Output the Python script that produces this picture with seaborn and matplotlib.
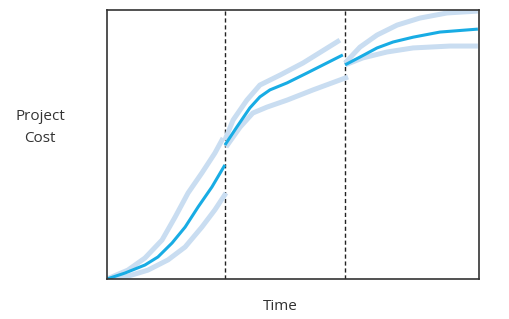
import matplotlib
matplotlib.use("Agg")
import matplotlib.pyplot as plt
import seaborn as sns
import pandas as pd

sns.set_theme(style="white")
plt.rcParams['font.family'] = ['Open Sans', 'DejaVu Sans']

# Phase boundaries (time units 0..10)
phase_bounds = [3.17, 6.40]

# Segment 1
s1_t_mid = [0, 0.48, 1.02, 1.37, 1.75, 2.10, 2.45, 2.82, 3.17]
s1_c_mid = [0, 2.2, 5.2, 8.2, 13.4, 19.3, 26.8, 34.2, 42.4]
s1_t_up = [0, 0.56, 1.02, 1.48, 1.83, 2.18, 2.55, 2.90, 3.12]
s1_c_up = [0, 3.3, 7.8, 14.5, 23.0, 32.0, 39.4, 46.8, 52.4]
s1_t_lo = [0, 0.48, 1.10, 1.64, 2.10, 2.55, 2.90, 3.20]
s1_c_lo = [0, 0.7, 3.3, 7.1, 11.9, 19.3, 25.7, 32.0]

# Segment 2
s2_t_mid = [3.17, 3.49, 3.84, 4.11, 4.38, 4.84, 5.38, 5.91, 6.34]
s2_c_mid = [49.8, 56.5, 63.6, 67.7, 70.3, 72.9, 76.6, 80.3, 83.3]
s2_t_up = [3.17, 3.39, 3.76, 4.11, 4.65, 5.27, 6.26]
s2_c_up = [51.7, 59.1, 66.5, 72.1, 75.8, 80.3, 88.8]
s2_t_lo = [3.20, 3.58, 3.92, 4.30, 4.84, 5.54, 6.48]
s2_c_lo = [49.1, 56.5, 61.7, 63.9, 66.5, 70.3, 75.1]

# Segment 3
s3_t_mid = [6.40, 6.80, 7.26, 7.69, 8.23, 8.95, 9.97]
s3_c_mid = [79.6, 82.5, 85.9, 88.1, 89.9, 91.8, 92.9]
s3_t_up = [6.40, 6.80, 7.26, 7.80, 8.41, 9.14, 9.97]
s3_c_up = [80.3, 86.2, 90.7, 94.4, 97.0, 98.9, 99.6]
s3_t_lo = [6.40, 6.88, 7.53, 8.23, 9.22, 9.97]
s3_c_lo = [79.6, 82.2, 84.4, 85.9, 86.6, 86.6]

fig = plt.figure(figsize=(5.10, 3.19), dpi=100)
ax = fig.add_axes([107/510, 40/319, 372/510, 269/319])

band_color = "#c9ddf1"
mid_color = "#18ace4"

bands = [(s1_t_up, s1_c_up), (s1_t_lo, s1_c_lo),
         (s2_t_up, s2_c_up), (s2_t_lo, s2_c_lo),
         (s3_t_up, s3_c_up), (s3_t_lo, s3_c_lo)]
mids = [(s1_t_mid, s1_c_mid), (s2_t_mid, s2_c_mid), (s3_t_mid, s3_c_mid)]

for t, c in bands:
    df = pd.DataFrame({"t": t, "c": c})
    sns.lineplot(data=df, x="t", y="c", ax=ax, color=band_color, lw=3.6,
                 sort=False, solid_capstyle="butt", solid_joinstyle="round")
for t, c in mids:
    df = pd.DataFrame({"t": t, "c": c})
    sns.lineplot(data=df, x="t", y="c", ax=ax, color=mid_color, lw=2.2,
                 sort=False, solid_capstyle="butt", solid_joinstyle="round")

for b in phase_bounds:
    ax.axvline(b, color="#222222", lw=1.0, ls=(0, (3, 2)), zorder=0)

ax.set_xlim(0, 10)
ax.set_ylim(0, 100)
ax.set_xticks([])
ax.set_yticks([])
ax.set_xlabel("")
ax.set_ylabel("")
for s in ax.spines.values():
    s.set_color("#333333")
    s.set_linewidth(1.2)

fig.text(40/510, 1 - 127.5/319, "Project\nCost", ha="center", va="center",
         fontsize=11, color="#333333", linespacing=1.55)
fig.text(280/510, 1 - 306/319, "Time", ha="center", va="center",
         fontsize=11, color="#333333")

fig.savefig("out.png", dpi=100)
